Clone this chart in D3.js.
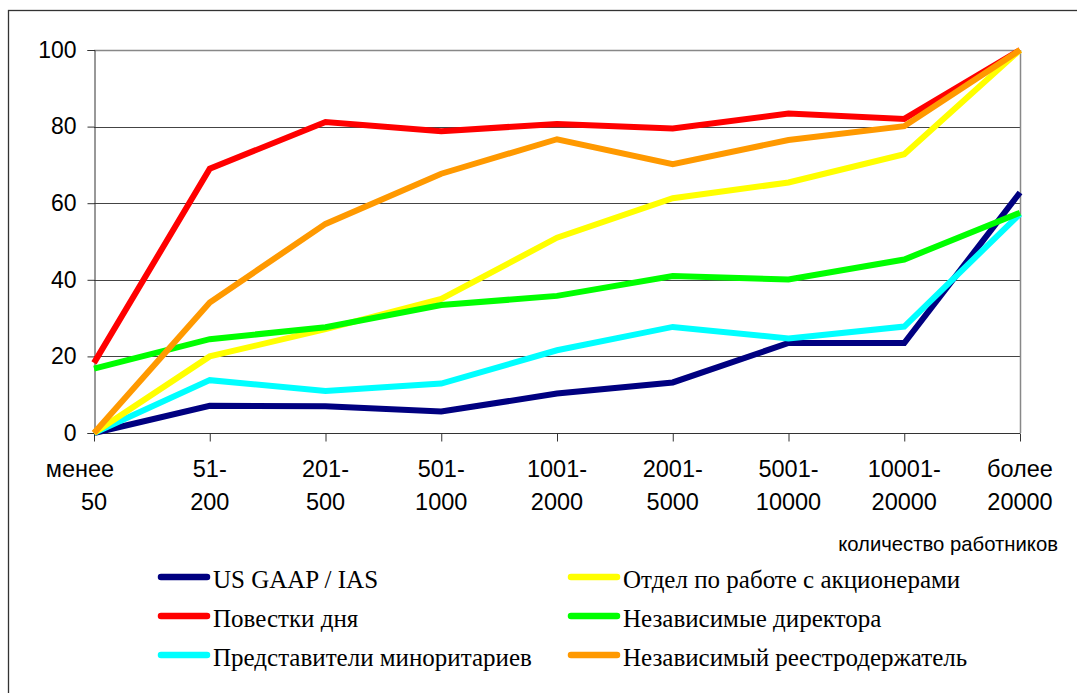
<!DOCTYPE html>
<html>
<head>
<meta charset="utf-8">
<script src="https://cdn.jsdelivr.net/npm/d3@7"></script>
<style>
  body { margin: 0; background: #fff; }
  svg { display: block; }
</style>
</head>
<body>
<div id="chart"></div>
<script>
// categories (employee-count buckets), two lines each
const categories = [
  ["менее", "50"], ["51-", "200"], ["201-", "500"], ["501-", "1000"],
  ["1001-", "2000"], ["2001-", "5000"], ["5001-", "10000"],
  ["10001-", "20000"], ["более", "20000"]
];
const yTicks = [0, 20, 40, 60, 80, 100];

const usGaap      = [0, 7.1, 7, 5.6, 10.3, 13.2, 23.5, 23.5, 62.8];
const agenda      = [18.3, 69, 81.2, 78.8, 80.7, 79.5, 83.4, 82, 100];
const minority    = [0, 13.8, 11, 12.9, 21.6, 27.7, 24.7, 27.8, 57.2];
const shareholder = [0, 20, 27.1, 35, 51, 61.3, 65.4, 72.8, 100];
const directors   = [16.8, 24.5, 27.6, 33.4, 35.8, 41, 40.1, 45.3, 57.5];
const registrar   = [0, 34.1, 54.6, 67.7, 76.7, 70.2, 76.5, 80.1, 100];

const series = [
  { name: "US GAAP / IAS", color: "#000080", values: usGaap },
  { name: "Повестки дня", color: "#ff0000", values: agenda },
  { name: "Представители миноритариев", color: "#00ffff", values: minority },
  { name: "Отдел по работе с акционерами", color: "#ffff00", values: shareholder },
  { name: "Независимые директора", color: "#00ff00", values: directors },
  { name: "Независимый реестродержатель", color: "#ff9900", values: registrar }
];
// legend is laid out in two columns, row by row
const legendOrder = [0, 3, 1, 4, 2, 5];

const width = 1077, height = 693;
const plot = { left: 94, top: 50, right: 1020, bottom: 433 };
const axisFont = "Liberation Sans, Arial, sans-serif";

const svg = d3.select("#chart").append("svg")
    .attr("width", width)
    .attr("height", height);

// outer chart border (cut off at right and bottom in the original)
svg.append("rect")
    .attr("x", 8.5).attr("y", 10.5)
    .attr("width", width + 20).attr("height", height + 20)
    .attr("fill", "none")
    .attr("stroke", "#333")
    .attr("stroke-width", 1.3);

const x = d3.scalePoint()
    .domain(d3.range(categories.length))
    .range([plot.left, plot.right]);

const y = d3.scaleLinear()
    .domain([0, 100])
    .range([plot.bottom, plot.top]);

// gridlines
svg.append("g")
    .selectAll("line")
    .data(yTicks.filter(t => t > 0))
    .join("line")
    .attr("x1", plot.left).attr("x2", plot.right)
    .attr("y1", d => Math.round(y(d)) + 0.5)
    .attr("y2", d => Math.round(y(d)) + 0.5)
    .attr("stroke", d => d === 100 ? "#888" : "#444")
    .attr("stroke-width", d => d === 100 ? 1.5 : 1);

// right border of plot area
svg.append("line")
    .attr("x1", plot.right + 0.5).attr("x2", plot.right + 0.5)
    .attr("y1", plot.top).attr("y2", plot.bottom)
    .attr("stroke", "#888").attr("stroke-width", 1.5);

// y axis
const yAxis = svg.append("g")
    .attr("transform", `translate(${plot.left + 0.5},0)`)
    .call(d3.axisLeft(y).tickValues(yTicks).tickSize(7).tickPadding(11));
yAxis.selectAll("path, line").attr("stroke", "#333");
yAxis.selectAll("text")
    .attr("font-family", axisFont)
    .attr("font-size", 23)
    .attr("fill", "#000");

// x axis
const xAxis = svg.append("g")
    .attr("transform", `translate(0,${plot.bottom + 0.5})`)
    .call(d3.axisBottom(x).tickSize(8).tickFormat(""));
xAxis.selectAll("path, line").attr("stroke", "#333");
xAxis.select(".domain").attr("d", `M${plot.left},0H${plot.right}`);

const xLabels = svg.append("g")
    .attr("font-family", axisFont)
    .attr("font-size", 23.5)
    .attr("text-anchor", "middle");
categories.forEach((lines, i) => {
  const t = xLabels.append("text").attr("x", x(i)).attr("y", 477);
  t.append("tspan").attr("x", x(i) + (i === 0 ? -14 : 0)).text(lines[0]);
  t.append("tspan").attr("x", x(i)).attr("dy", 33).text(lines[1]);
});

svg.append("text")
    .attr("x", 1058).attr("y", 551)
    .attr("text-anchor", "end")
    .attr("font-family", axisFont)
    .attr("font-size", 20.3)
    .text("количество работников");

// lines
const line = d3.line()
    .x((d, i) => x(i))
    .y(d => y(d));

svg.append("g")
    .selectAll("path")
    .data(series)
    .join("path")
    .attr("d", d => line(d.values))
    .attr("fill", "none")
    .attr("stroke", d => d.color)
    .attr("stroke-width", 6)
    .attr("stroke-linejoin", "miter");

// legend
const legend = svg.append("g")
    .attr("font-family", "Liberation Serif, Times New Roman, serif")
    .attr("font-size", 25);
legendOrder.forEach((si, k) => {
  const col = k % 2, row = Math.floor(k / 2);
  const lx = col === 0 ? 161 : 571;
  const ly = 577 + row * 39;
  const g = legend.append("g").attr("transform", `translate(${lx},${ly})`);
  g.append("line")
      .attr("x1", 0).attr("x2", 46)
      .attr("y1", 0).attr("y2", 0)
      .attr("stroke", series[si].color)
      .attr("stroke-width", 6.5)
      .attr("stroke-linecap", "round");
  g.append("text")
      .attr("x", 52).attr("y", 11)
      .text(series[si].name);
});
</script>
</body>
</html>
